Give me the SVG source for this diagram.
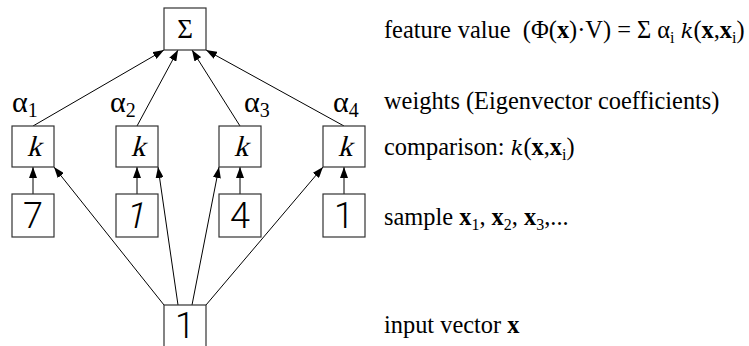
<svg xmlns="http://www.w3.org/2000/svg" width="749" height="346" viewBox="0 0 749 346">
<defs>
<style>
.box{fill:#fff;stroke:#333;stroke-width:1.2}
.conn line{stroke:#000;stroke-width:1;marker-end:url(#ah)}
.serif{font-family:"Liberation Serif","Times New Roman",serif}
.kk{font-size:29px;text-anchor:middle}
.sig{font-size:27px;text-anchor:middle}
.al{font-size:30px}
.dg{font-family:Roboto,"Liberation Sans",sans-serif;font-weight:300;font-size:36px;text-anchor:middle;fill:#000}
.lab{font-size:24.4px}
.b{font-weight:bold}
.ik{font-family:"DejaVu Serif",serif;font-style:italic;font-size:21px}
</style>
<marker id="ah" markerUnits="userSpaceOnUse" markerWidth="11" markerHeight="8" refX="11" refY="4" orient="auto">
<path d="M0,0 L11,4 L0,8 z" fill="#000"/>
</marker>
</defs>
<g id="connectors" class="conn">
<line x1="33" y1="126" x2="164" y2="50"/>
<line x1="137" y1="126" x2="178" y2="50"/>
<line x1="240" y1="126" x2="192" y2="50"/>
<line x1="344" y1="126" x2="206" y2="50"/>
<line x1="33" y1="194" x2="33" y2="167"/>
<line x1="137" y1="194" x2="137" y2="167"/>
<line x1="240" y1="194" x2="240" y2="167"/>
<line x1="344" y1="194" x2="344" y2="167"/>
<line x1="164" y1="305" x2="54" y2="167"/>
<line x1="178" y1="305" x2="158" y2="167"/>
<line x1="192" y1="305" x2="219" y2="167"/>
<line x1="206" y1="305" x2="323" y2="167"/>
</g>
<g id="sum"><rect class="box" x="164" y="8" width="42" height="42"/><text class="serif sig" x="185" y="38">Σ</text></g>
<g id="k1"><rect class="box" x="12" y="126" width="42" height="41"/><text class="serif kk" transform="translate(34,156) skewX(-15)">k</text></g>
<g id="k2"><rect class="box" x="116" y="126" width="42" height="41"/><text class="serif kk" transform="translate(138,156) skewX(-15)">k</text></g>
<g id="k3"><rect class="box" x="219" y="126" width="42" height="41"/><text class="serif kk" transform="translate(241,156) skewX(-15)">k</text></g>
<g id="k4"><rect class="box" x="323" y="126" width="42" height="41"/><text class="serif kk" transform="translate(345,156) skewX(-15)">k</text></g>
<g id="alpha-labels" class="serif al">
<text x="12" y="112">α<tspan font-size="20" dy="5">1</tspan></text>
<text x="110" y="112">α<tspan font-size="20" dy="5">2</tspan></text>
<text x="244" y="112">α<tspan font-size="20" dy="5">3</tspan></text>
<text x="333" y="112">α<tspan font-size="20" dy="5">4</tspan></text>
</g>
<g id="s1"><rect class="box" x="12" y="194" width="42" height="43"/><text class="dg" x="33" y="228">7</text></g>
<g id="s2"><rect class="box" x="116" y="194" width="42" height="43"/><text class="dg" x="137" y="228" transform="skewX(-12) translate(46,0)">1</text></g>
<g id="s3"><rect class="box" x="219" y="194" width="42" height="43"/><text class="dg" x="240" y="228">4</text></g>
<g id="s4"><rect class="box" x="323" y="194" width="42" height="43"/><text class="dg" x="344" y="228">1</text></g>
<g id="input"><rect class="box" x="164" y="305" width="42" height="50"/><text class="dg" x="185" y="338" font-size="32">1</text></g>
<g id="labels" class="serif lab">
<text x="384" y="38" xml:space="preserve">feature value  (Φ(<tspan class="b">x</tspan>)·V) = Σ α<tspan font-size="16" dy="5">i</tspan><tspan dy="-5"> </tspan><tspan class="ik">k</tspan>(<tspan class="b">x</tspan>,<tspan class="b">x</tspan><tspan font-size="16" dy="5">i</tspan><tspan dy="-5">)</tspan></text>
<text x="384" y="109">weights (Eigenvector coefficients)</text>
<text x="384" y="155">comparison: <tspan class="ik">k</tspan>(<tspan class="b">x</tspan>,<tspan class="b">x</tspan><tspan font-size="16" dy="5">i</tspan><tspan dy="-5">)</tspan></text>
<text x="384" y="225">sample <tspan class="b">x</tspan><tspan font-size="16" dy="5">1</tspan><tspan dy="-5">, </tspan><tspan class="b">x</tspan><tspan font-size="16" dy="5">2</tspan><tspan dy="-5">, </tspan><tspan class="b">x</tspan><tspan font-size="16" dy="5">3</tspan><tspan dy="-5">,...</tspan></text>
<text x="384" y="333">input vector <tspan class="b">x</tspan></text>
</g>
</svg>
